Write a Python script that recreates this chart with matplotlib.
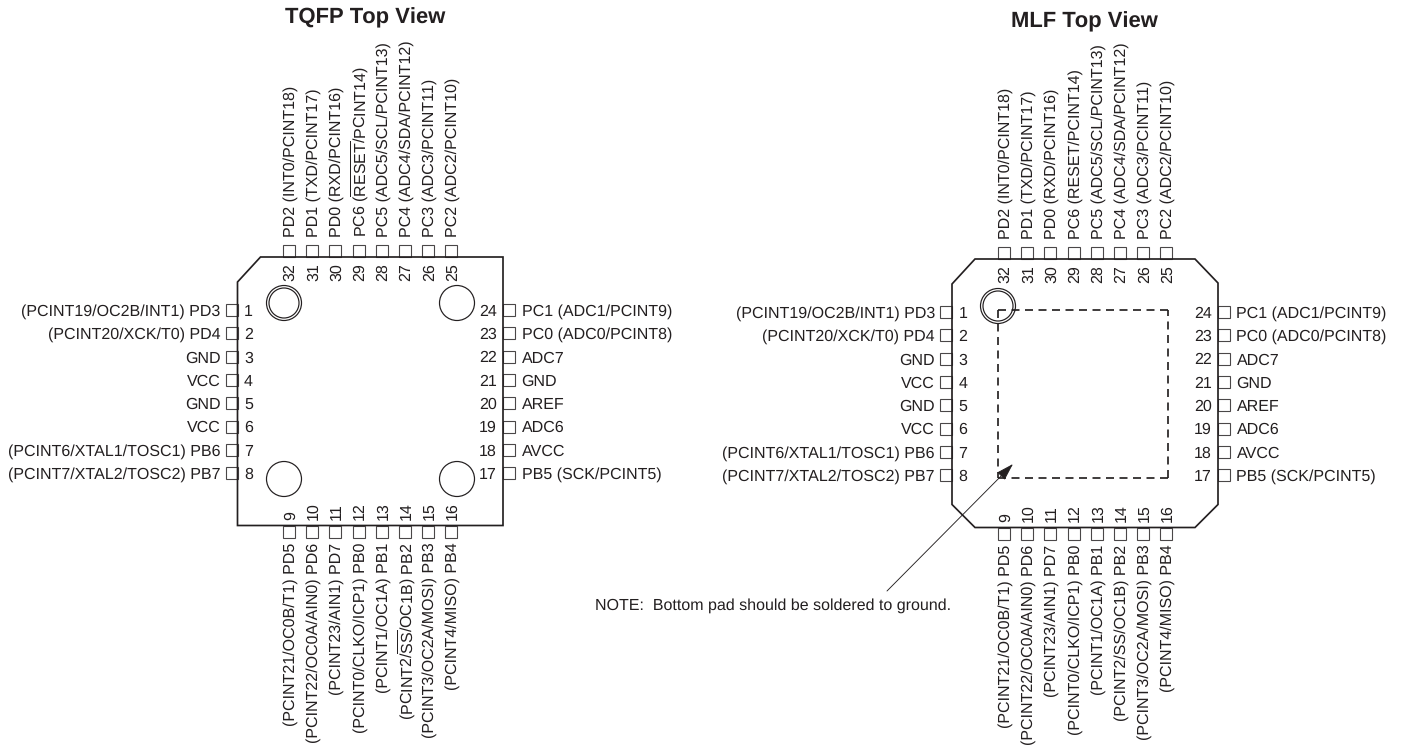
import matplotlib
matplotlib.use("Agg")
import matplotlib.pyplot as plt
from matplotlib.patches import Circle, Polygon, Rectangle

plt.rcParams['font.family'] = ['Liberation Sans', 'DejaVu Sans']
plt.rcParams['mathtext.fontset'] = 'custom'
plt.rcParams['mathtext.rm'] = 'Liberation Sans'
plt.rcParams['text.hinting'] = 'none'
plt.rcParams['text.hinting_factor'] = 1
plt.rcParams['lines.scale_dashes'] = False

INK = '#231f20'
FS = 11.55
PX = 0.72

left_names = ["(PCINT19/OC2B/INT1) PD3", "(PCINT20/XCK/T0) PD4", "GND", "VCC", "GND", "VCC",
              "(PCINT6/XTAL1/TOSC1) PB6", "(PCINT7/XTAL2/TOSC2) PB7"]
right_names = ["PC1 (ADC1/PCINT9)", "PC0 (ADC0/PCINT8)", "ADC7", "GND", "AREF", "ADC6", "AVCC", "PB5 (SCK/PCINT5)"]
right_numbers = [24, 23, 22, 21, 20, 19, 18, 17]
left_numbers = [1, 2, 3, 4, 5, 6, 7, 8]
bottom_numbers = [9, 10, 11, 12, 13, 14, 15, 16]
top_numbers = [32, 31, 30, 29, 28, 27, 26, 25]
top_names_tqfp = ["PD2 (INT0/PCINT18)", "PD1 (TXD/PCINT17)", "PD0 (RXD/PCINT16)",
                  r"PC6 ($\overline{\mathrm{RESET}}$/PCINT14)", "PC5 (ADC5/SCL/PCINT13)",
                  "PC4 (ADC4/SDA/PCINT12)", "PC3 (ADC3/PCINT11)", "PC2 (ADC2/PCINT10)"]
top_names_mlf = ["PD2 (INT0/PCINT18)", "PD1 (TXD/PCINT17)", "PD0 (RXD/PCINT16)",
                 "PC6 (RESET/PCINT14)", "PC5 (ADC5/SCL/PCINT13)",
                 "PC4 (ADC4/SDA/PCINT12)", "PC3 (ADC3/PCINT11)", "PC2 (ADC2/PCINT10)"]
bottom_names_tqfp = ["(PCINT21/OC0B/T1) PD5", "(PCINT22/OC0A/AIN0) PD6", "(PCINT23/AIN1) PD7",
                     "(PCINT0/CLKO/ICP1) PB0", "(PCINT1/OC1A) PB1",
                     r"(PCINT2/$\overline{\mathrm{SS}}$/OC1B) PB2", "(PCINT3/OC2A/MOSI) PB3", "(PCINT4/MISO) PB4"]
bottom_names_mlf = ["(PCINT21/OC0B/T1) PD5", "(PCINT22/OC0A/AIN0) PD6", "(PCINT23/AIN1) PD7",
                    "(PCINT0/CLKO/ICP1) PB0", "(PCINT1/OC1A) PB1",
                    "(PCINT2/SS/OC1B) PB2", "(PCINT3/OC2A/MOSI) PB3", "(PCINT4/MISO) PB4"]

fig = plt.figure(figsize=(14.02, 7.47), dpi=100)
ax = fig.add_axes([0, 0, 1, 1])
ax.set_xlim(0, 1402)
ax.set_ylim(747, 0)
ax.axis('off')

PITCH_X = 23.2
PITCH_Y = 23.3
SQ = 12
ROT_SHIFT = 1.5


def pin(x, y):
    ax.add_patch(Rectangle((x, y), SQ, SQ, fill=False, ec='#4a4748', lw=1.1 * PX, zorder=1))


def chip(x0, y0, x1, y1, first_x, first_y, top_names, bottom_names, chamfers):
    c = 23
    pts = []
    pts += [(x0 + c, y0)]
    pts += [(x1 - c, y0), (x1, y0 + c + 1)] if 'tr' in chamfers else [(x1, y0)]
    pts += [(x1, y1 - c), (x1 - c, y1)] if 'br' in chamfers else [(x1, y1)]
    pts += [(x0 + c, y1), (x0, y1 - c)] if 'bl' in chamfers else [(x0, y1)]
    pts += [(x0, y0 + c + 2)]
    ax.add_patch(Polygon(pts, closed=True, fill=False, ec=INK, lw=1.7 * PX, zorder=3, joinstyle='miter'))

    for i in range(8):
        y = first_y + i * PITCH_Y
        x = first_x + i * PITCH_X
        tx = x + ROT_SHIFT
        # left side
        pin(x0 - SQ, y - SQ / 2)
        ax.text(x0 - 17, y, left_names[i], ha='right', va='center_baseline', fontsize=FS, color=INK)
        ax.text(x0 + 6.5, y, str(left_numbers[i]), ha='left', va='center_baseline', fontsize=FS, color=INK)
        # right side
        pin(x1, y - SQ / 2)
        ax.text(x1 + 18.5, y, right_names[i], ha='left', va='center_baseline', fontsize=FS, color=INK)
        ax.text(x1 - 6, y, str(right_numbers[i]), ha='right', va='center_baseline', fontsize=FS, color=INK)
        # top side
        pin(x - SQ / 2, y0 - SQ)
        ax.text(tx, y0 - 20, top_names[i], rotation=90, ha='center', va='bottom',
                rotation_mode='default', fontsize=FS, color=INK)
        ax.text(tx, y0 + 24, str(top_numbers[i]), rotation=90, ha='center', va='bottom', fontsize=FS, color=INK)
        # bottom side
        pin(x - SQ / 2, y1)
        ax.text(tx, y1 + 17, bottom_names[i], rotation=90, ha='center', va='top', fontsize=FS, color=INK)
        ax.text(tx, y1 - 5.5, str(bottom_numbers[i]), rotation=90, ha='center', va='bottom', fontsize=FS, color=INK)


def mark(x, y, double=False):
    ax.add_patch(Circle((x, y), 17.5, fill=False, ec=INK, lw=1.2 * PX, zorder=4))
    if double:
        ax.add_patch(Circle((x, y), 15, fill=False, ec=INK, lw=1.2 * PX, zorder=4))


def dashed_pad(x0, y0, x1, y1):
    style = dict(color=INK, lw=1.7 * PX, ls=(0, (5.76, 3.96)), dash_capstyle='butt', zorder=2)
    ax.plot([x0, x1], [y0, y0], **style)
    ax.plot([x0, x0], [y0, y1], **style)
    ax.plot([x1, x0], [y1, y1], **style)
    ax.plot([x1, x1], [y1, y0], **style)


# TQFP package
chip(237.5, 257, 503, 525.5, 289, 310, top_names_tqfp, bottom_names_tqfp, ())
mark(284, 303, True)
mark(457, 303)
mark(284, 479)
mark(457, 479)
ax.text(365.5, 17.5, "TQFP Top View", ha='center', va='center', fontsize=16.0, fontweight='bold', color=INK)

# MLF package
chip(952, 259, 1218, 527.5, 1004, 312, top_names_mlf, bottom_names_mlf, ('tr', 'br', 'bl'))
mark(998, 306, True)
dashed_pad(998, 310, 1168, 478)
ax.text(1084.5, 21.5, "MLF Top View", ha='center', va='center', fontsize=16.0, fontweight='bold', color=INK)

# Note with arrow
ax.annotate("", xy=(1013, 464), xytext=(887, 591),
            arrowprops=dict(arrowstyle='-|>,head_length=1.08,head_width=0.33', color=INK, lw=0.9 * PX,
                            mutation_scale=10, shrinkA=0, shrinkB=0), zorder=5)
ax.text(595, 605.5, "NOTE:  Bottom pad should be soldered to ground.", ha='left', va='center',
        fontsize=11.58, color=INK)

fig.savefig("out.png", dpi=100, facecolor='white')
